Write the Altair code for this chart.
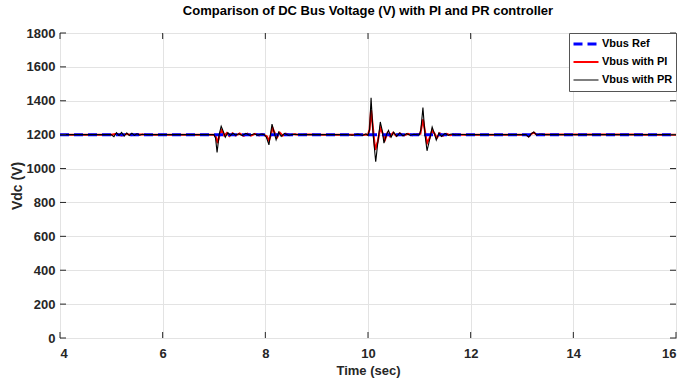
import altair as alt
import pandas as pd

# ---- data ----
t_ref = [4.0, 16.0]
v_ref = [1200, 1200]

t_pi = [4.0, 5.0, 5.1, 5.2, 5.3, 5.4, 5.5, 5.7, 7.0, 7.04, 7.07, 7.11, 7.15, 7.2, 7.25, 7.3,
        7.36, 7.42, 7.5, 7.58, 7.65, 7.72, 7.8, 7.88, 7.95, 8.03, 8.07, 8.11, 8.14, 8.18,
        8.23, 8.28, 8.34, 8.4, 8.48, 8.56, 8.65, 8.8, 9.0, 10.0, 10.03, 10.06, 10.1, 10.14,
        10.19, 10.24, 10.29, 10.33, 10.38, 10.43, 10.49, 10.55, 10.62, 10.7, 10.78, 10.86,
        10.95, 11.02, 11.07, 11.11, 11.15, 11.2, 11.25, 11.3, 11.34, 11.4, 11.46, 11.53,
        11.6, 11.7, 11.85, 12.0, 13.08, 13.13, 13.18, 13.23, 13.3, 13.4, 16.0]
v_pi = [1200, 1200, 1205, 1195, 1204, 1197, 1202, 1200, 1200, 1185, 1150, 1200, 1225, 1195, 1210, 1192,
        1208, 1195, 1207, 1193, 1206, 1194, 1205, 1196, 1203, 1190, 1165, 1200, 1240, 1212,
        1185, 1212, 1194, 1206, 1197, 1203, 1199, 1201, 1200, 1200, 1230, 1345, 1230, 1110,
        1160, 1240, 1205, 1170, 1210, 1190, 1212, 1193, 1208, 1195, 1205, 1197,
        1202, 1205, 1290, 1220, 1150, 1180, 1225, 1205, 1180, 1208, 1193, 1205,
        1197, 1202, 1199, 1200, 1200, 1190, 1204, 1212, 1199, 1201, 1200]

t_pr = [4.0, 5.0, 5.05, 5.1, 5.15, 5.2, 5.25, 5.3, 5.35, 5.4, 5.45, 5.5, 5.55, 5.6, 5.7,
        7.0, 7.03, 7.06, 7.1, 7.14, 7.18, 7.22, 7.27, 7.32, 7.37, 7.42, 7.48, 7.55, 7.62,
        7.7, 7.78, 7.85, 7.92, 7.98, 8.02, 8.07, 8.1, 8.13, 8.17, 8.21, 8.26, 8.31, 8.37,
        8.45, 8.55, 8.7, 9.6, 9.7, 9.8, 9.9, 9.96, 10.0, 10.03, 10.06, 10.1, 10.15, 10.19,
        10.24, 10.28, 10.31, 10.36, 10.4, 10.45, 10.5, 10.56, 10.62, 10.68, 10.75, 10.82,
        10.9, 11.0, 11.03, 11.07, 11.11, 11.15, 11.2, 11.25, 11.29, 11.33, 11.38, 11.43,
        11.5, 11.56, 11.62, 11.7, 11.8, 12.0, 13.08, 13.13, 13.18, 13.23, 13.28, 13.35,
        13.45, 16.0]
v_pr = [1200, 1200, 1188, 1212, 1195, 1213, 1192, 1210, 1195, 1208, 1196, 1205, 1197, 1202, 1200,
        1200, 1180, 1095, 1200, 1250, 1220, 1185, 1212, 1195, 1208, 1197, 1205, 1195, 1207,
        1196, 1205, 1197, 1203, 1200, 1185, 1140, 1200, 1262, 1215, 1170, 1215, 1190, 1207,
        1197, 1202, 1200, 1200, 1197, 1203, 1196, 1205, 1195, 1230, 1418, 1200, 1040, 1150,
        1275, 1220, 1150, 1200, 1225, 1185, 1215, 1190, 1210, 1193, 1206, 1197,
        1202, 1198, 1230, 1360, 1200, 1105, 1170, 1245, 1210, 1168, 1210, 1190,
        1207, 1196, 1204, 1199, 1201, 1200, 1200, 1186, 1205, 1216, 1198, 1203,
        1200, 1200]

series_names = ["Vbus Ref", "Vbus with PI", "Vbus with PR"]
series_colors = ["#0000ff", "#ff0000", "#000000"]

x_ticks = [4, 6, 8, 10, 12, 14, 16]
y_ticks = [0, 200, 400, 600, 800, 1000, 1200, 1400, 1600, 1800]

# drawing order: PI underneath, dashed reference over it, PR on top
rows = []
for name, ts, vs in [(series_names[1], t_pi, v_pi),
                     (series_names[0], t_ref, v_ref),
                     (series_names[2], t_pr, v_pr)]:
    for i, (t, v) in enumerate(zip(ts, vs)):
        rows.append({"series": name, "t": t, "v": v, "i": i})
df = pd.DataFrame(rows)

W, H = 616, 305
FONT = "Liberation Sans Narrow, Arial Narrow, Liberation Sans, Arial, sans-serif"

xscale = alt.Scale(domain=[4, 16], nice=False, zero=False)
yscale = alt.Scale(domain=[0, 1800], nice=False)

x_axis = alt.Axis(values=x_ticks, title="Time (sec)", grid=True, ticks=False,
                  domain=False, labelPadding=9, titlePadding=4, format="d",
                  labelOverlap=False)
y_axis = alt.Axis(values=y_ticks, title="Vdc (V)", grid=True, ticks=False,
                  domain=False, labelPadding=5, format="d", labelOverlap=False,
                  titleX=-43, titleY=H / 2, titleBaseline="middle", titleFontSize=14)

leg = alt.Legend(orient="top-right", offset=0, title=None)

lines = alt.Chart(df).mark_line(clip=True).encode(
    x=alt.X("t:Q", scale=xscale, axis=x_axis, title="Time (sec)"),
    y=alt.Y("v:Q", scale=yscale, axis=y_axis, title="Vdc (V)"),
    color=alt.Color("series:N",
                    scale=alt.Scale(domain=series_names, range=series_colors),
                    legend=leg),
    strokeDash=alt.StrokeDash("series:N",
                              scale=alt.Scale(domain=series_names,
                                              range=[[9, 5], [1, 0], [1, 0]]),
                              legend=leg),
    strokeWidth=alt.StrokeWidth("series:N",
                                scale=alt.Scale(type="ordinal", domain=series_names,
                                                range=[3, 2, 1.1]),
                                legend=leg),
    order="i:Q",
)

xt = pd.DataFrame({"x": x_ticks})
yt = pd.DataFrame({"y": y_ticks})

bottom_ticks = alt.Chart(xt).mark_rule(color="#262626", strokeWidth=1).encode(
    x=alt.X("x:Q", scale=xscale, axis=x_axis, title="Time (sec)"),
    y=alt.value(H), y2=alt.value(H - 6))
top_ticks = alt.Chart(xt).mark_rule(color="#262626", strokeWidth=1).encode(
    x=alt.X("x:Q", scale=xscale, axis=x_axis, title="Time (sec)"),
    y=alt.value(0), y2=alt.value(6))
left_ticks = alt.Chart(yt).mark_rule(color="#262626", strokeWidth=1).encode(
    y=alt.Y("y:Q", scale=yscale, axis=y_axis, title="Vdc (V)"),
    x=alt.value(0), x2=alt.value(6))
right_ticks = alt.Chart(yt).mark_rule(color="#262626", strokeWidth=1).encode(
    y=alt.Y("y:Q", scale=yscale, axis=y_axis, title="Vdc (V)"),
    x=alt.value(W), x2=alt.value(W - 6))

chart = alt.layer(lines, bottom_ticks, top_ticks, left_ticks, right_ticks).properties(
    width=W, height=H,
    autosize=alt.AutoSizeParams(type="none"),
    padding={"left": 60, "top": 33, "right": 16, "bottom": 49},
    title=alt.TitleParams("Comparison of DC Bus Voltage (V) with PI and PR controller",
                          font=FONT, fontSize=13, fontWeight="bold", color="#000000",
                          offset=9, anchor="middle"),
    background="white",
).configure_view(
    stroke="#262626", strokeWidth=1
).configure_axis(
    labelFont=FONT, labelFontSize=13, labelFontWeight="bold", labelColor="#262626",
    titleFont=FONT, titleFontSize=13, titleFontWeight="bold", titleColor="#262626",
    gridColor="#e3e3e3", gridWidth=1,
).configure_legend(
    labelFont=FONT, labelFontSize=11, labelFontWeight="bold", labelColor="#000000",
    symbolType="stroke", symbolSize=625, symbolStrokeWidth=2, clipHeight=16,
    strokeColor="#555555", fillColor="white", padding=3, rowPadding=2,
    labelOffset=2,
)

chart.save("out.html", embed_options={"renderer": "svg", "actions": False})
